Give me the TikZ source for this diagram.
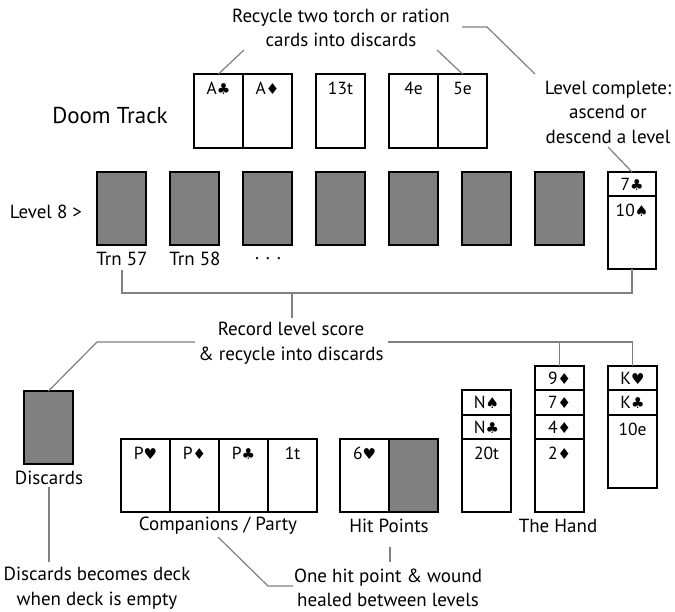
\documentclass[tikz,border=0pt]{standalone}
\usepackage{fontspec}
\setmainfont{PT Sans}
\newfontfamily\suitfont{DejaVu Sans}
\newcommand\Cl{{\suitfont\fontsize{15}{15}\selectfont ♣}}
\newcommand\Di{{\suitfont\fontsize{15}{15}\selectfont ♦}}
\newcommand\He{{\suitfont\fontsize{15}{15}\selectfont ♥}}
\newcommand\Sp{{\suitfont\fontsize{15}{15}\selectfont ♠}}
\tikzset{
  cardbox/.style={draw=black, line width=1.4pt, inner sep=0pt, outer sep=0pt, anchor=north west},
  cardtext/.style={inner sep=0pt, font=\fontsize{17.5}{17.5}\selectfont},
  lbl/.style={inner sep=0pt, align=center, font=\fontsize{19}{24.5}\selectfont},
  conn/.style={draw=black!50, line width=1.2pt},
}
\definecolor{back}{RGB}{128,128,128}
% name, x, y, w, h, fill, text
\newcommand\mkcard[7]{%
  \node[cardbox, fill=#6, minimum width=#4pt, minimum height=#5pt] (#1) at (#2,#3) {};
  \node[cardtext] (#1t) at ([yshift=-14pt]#1.north) {#7};}
% strip: name, x, y, w, h, text (centered)
\newcommand\mkstrip[6]{%
  \node[cardbox, fill=white, minimum width=#4pt, minimum height=#5pt, font=\fontsize{17.5}{17.5}\selectfont] (#1) at (#2,#3) {#6};}
\begin{document}
\begin{tikzpicture}[x=1pt,y=-1pt]
\useasboundingbox[fill=white] (0,0) rectangle (675,611);

% ---- Doom track ----
\node[lbl, font=\fontsize{23}{24}\selectfont] (doom) at (110,115) {Doom Track};
\mkcard{dA}{194}{74}{49}{74}{white}{A\Cl}
\mkcard{dB}{243}{74}{49}{74}{white}{A\Di}
\mkcard{dC}{316}{74}{49}{74}{white}{13t}
\mkcard{dD}{389}{74}{49}{74}{white}{4e}
\mkcard{dE}{438}{74}{49}{74}{white}{5e}

\node[lbl] (recyc) at (341,28) {Recycle two torch or ration\\cards into discards};
\node[lbl] (lvlc) at (608,112) {Level complete:\\ascend or\\descend a level};

% ---- Level 8 ----
\node[lbl] (lvl8) at (46,212) {Level 8 >};
\foreach \i/\x in {1/97,2/170,3/243,4/316,5/389,6/462,7/535}{
  \node[cardbox, fill=back, minimum width=49pt, minimum height=73pt] (g\i) at (\x,172) {};
}
\mkstrip{lcTop}{608}{172}{48}{24}{7\Cl}
\mkcard{lcBot}{608}{196}{48}{73}{white}{10\Sp}
\node[lbl] (trn57) at (122,259) {Trn 57};
\node[lbl] (trn58) at (195,259) {Trn 58};
\node[lbl] (dots) at (268,259) {. . .};

\node[lbl] (record) at (291,343) {Record level score\\\& recycle into discards};

% ---- Discards ----
\node[cardbox, fill=back, minimum width=49pt, minimum height=73pt] (disc) at (24,391) {};
\node[lbl] (discl) at (49,478) {Discards};

% ---- Companions ----
\mkcard{cA}{121}{439}{49}{73}{white}{P\He}
\mkcard{cB}{170}{439}{49}{73}{white}{P\Di}
\mkcard{cC}{219}{439}{49}{73}{white}{P\Cl}
\mkcard{cD}{268}{439}{49}{73}{white}{1t}
\node[lbl] (compl) at (218,526) {Companions / Party};

% ---- Hit points ----
\mkcard{hA}{340}{439}{49}{73}{white}{6\He}
\node[cardbox, fill=back, minimum width=49pt, minimum height=73pt] (hB) at (389,439) {};
\node[lbl] (hitl) at (389,526) {Hit Points};

% ---- Hand ----
\mkstrip{h1a}{462}{390}{49}{25}{N\Sp}
\mkstrip{h1b}{462}{415}{49}{24}{N\Cl}
\mkcard{h1c}{462}{439}{49}{73}{white}{20t}
\mkstrip{h2a}{535}{366}{49}{24}{9\Di}
\mkstrip{h2b}{535}{390}{49}{25}{7\Di}
\mkstrip{h2c}{535}{415}{49}{24}{4\Di}
\mkcard{h2d}{535}{439}{49}{73}{white}{2\Di}
\mkstrip{h3a}{608}{366}{49}{24}{K\He}
\mkstrip{h3b}{608}{390}{49}{25}{K\Cl}
\mkcard{h3c}{608}{415}{49}{73}{white}{10e}
\node[lbl] (handl) at (558,526) {The Hand};

% ---- bottom notes ----
\node[lbl] (deckn) at (97,588) {Discards becomes deck\\when deck is empty};
\node[lbl] (healn) at (388,588) {One hit point \& wound\\healed between levels};

% ---- connectors ----
\coordinate (r1) at (244,50);
\coordinate (r2) at (437,50);
\draw[conn] (r1) -- (dA.north);
\draw[conn] (r2) -- (dE.north);
\coordinate (u1) at (462,27);
\coordinate (u2) at (487,27);
\coordinate (u3) at (535,74);
\draw[conn] (u1) -- (u2) -- (u3);
\coordinate (lc1) at (608,147);
\draw[conn] (lc1) -- (lcTop.north);

\coordinate (b1) at (122,270);
\coordinate (b2) at (122,293);
\coordinate (b3) at (632,293);
\coordinate (b4) at (292,293);
\coordinate (b5) at (292,318);
\draw[conn] (b1) -- (b2) -- (b3) -- (lcBot.south);
\draw[conn] (b4) -- (b5);

\coordinate (d1) at (195,342);
\coordinate (d2) at (97,342);
\draw[conn] (d1) -- (d2) -- (disc.north);

\coordinate (e1) at (388,342);
\coordinate (e2) at (632.5,342);
\coordinate (e3) at (559.5,342);
\draw[conn] (e1) -- (e2) -- (h3a.north);
\draw[conn] (e3) -- (h2a.north);

\coordinate (f1) at (49,487);
\coordinate (f2) at (49,562);
\draw[conn] (f1) -- (f2);

\coordinate (g1c) at (218,537);
\coordinate (g2c) at (268,586);
\coordinate (g3c) at (293,586);
\draw[conn] (g1c) -- (g2c) -- (g3c);

\coordinate (k1) at (390,547);
\coordinate (k2) at (390,562);
\draw[conn] (k1) -- (k2);
\end{tikzpicture}
\end{document}
